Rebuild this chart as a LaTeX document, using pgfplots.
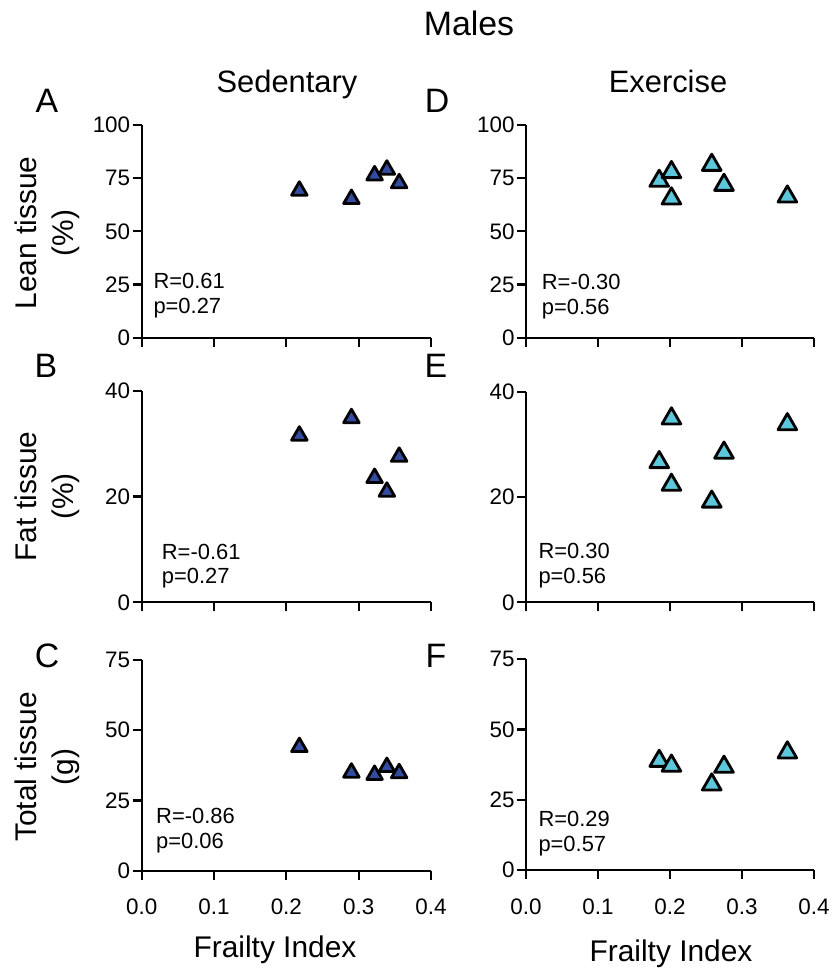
\documentclass[border=0pt]{standalone}
\usepackage{fontspec}
\setmainfont{Liberation Sans}
\usepackage{pgfplots}
\pgfplotsset{compat=1.18}
\definecolor{sedblue}{RGB}{52,76,160}
\definecolor{excyan}{RGB}{92,198,218}
\pgfplotsset{
  panel/.style={
    scale only axis, axis x line=bottom, axis y line=left,
    axis line style={-, line width=2.2bp, black},
    xmin=0, xmax=0.4, ymin=0,
    xtick={0,0.1,0.2,0.3,0.4},
    tick align=outside, major tick length=9bp,
    major tick style={line width=2.2bp, black},
    tick label style={font=\fontsize{22.5}{26}\selectfont},
    /pgf/number format/assume math mode=true,
    x tick label style={yshift=-16bp, /pgf/number format/fixed, /pgf/number format/fixed zerofill, /pgf/number format/precision=1},
    y tick label style={xshift=1bp},
    clip=false,
    anchor=south west,
  },
  noxlab/.style={xticklabels={}},
  sed/.style={only marks, mark=triangle*, mark size=9bp, mark options={fill=sedblue, draw=black, line width=2.8bp, line join=round}},
  exc/.style={only marks, mark=triangle*, mark size=10.8bp, mark options={fill=excyan, draw=black, line width=2.8bp, line join=round}},
}
\begin{document}
\begin{tikzpicture}
\path[use as bounding box] (0bp,0bp) rectangle (833bp,972bp);
% Titles
\node[anchor=base, font=\fontsize{34}{40}\selectfont, inner sep=0] at (469bp,936bp) {Males};
\node[anchor=base, font=\fontsize{31}{36}\selectfont, inner sep=0] at (287bp,879bp) {Sedentary};
\node[anchor=base, font=\fontsize{31}{36}\selectfont, inner sep=0] at (668bp,879bp) {Exercise};
% Panel letters
\begin{scope}[every node/.style={anchor=base, font=\fontsize{34}{40}\selectfont, inner sep=0}]
\node at (47bp,859bp) {A};
\node at (437bp,859bp) {D};
\node at (46bp,594bp) {B};
\node at (436bp,594bp) {E};
\node at (47bp,304bp) {C};
\node at (436bp,304bp) {F};
\end{scope}
% Y labels
\begin{scope}[every node/.style={rotate=90, align=center, font=\fontsize{30}{37}\selectfont, inner sep=0}]
\node at (47bp,739bp) {Lean tissue\\(\%)};
\node at (47bp,475.5bp) {Fat tissue\\(\%)};
\node at (47bp,205bp) {Total tissue\\(g)};
\end{scope}
% X labels
\node[anchor=base, font=\fontsize{30}{36}\selectfont, inner sep=0] at (275bp,15bp) {Frailty Index};
\node[anchor=base, font=\fontsize{30}{36}\selectfont, inner sep=0] at (671bp,11bp) {Frailty Index};
% Annotations
\begin{scope}[every node/.style={anchor=base west, font=\fontsize{22}{26}\selectfont, inner sep=0}]
\node at (153.3bp,683.7bp) {R=0.61};
\node at (153.3bp,658.7bp) {p=0.27};
\node at (161.7bp,412bp) {R=-0.61};
\node at (161.7bp,388.7bp) {p=0.27};
\node at (156bp,148.7bp) {R=-0.86};
\node at (156bp,123.7bp) {p=0.06};
\node at (541.7bp,682bp) {R=-0.30};
\node at (541.7bp,657bp) {p=0.56};
\node at (538.3bp,413.7bp) {R=0.30};
\node at (538.3bp,388.7bp) {p=0.56};
\node at (538.3bp,145.3bp) {R=0.29};
\node at (538.3bp,120.3bp) {p=0.57};
\end{scope}
% Panel A
\begin{axis}[panel, noxlab, at={(141.7bp,634.3bp)}, width=289.3bp, height=212.7bp, ymax=100, ytick={0,25,50,75,100}]
\addplot[sed] coordinates {(0.218,69.1) (0.290,65.2) (0.322,76.3) (0.339,79.0) (0.356,72.6)};
\end{axis}
% Panel B
\begin{axis}[panel, noxlab, at={(141.7bp,369.7bp)}, width=289.3bp, height=211.6bp, ymax=40, ytick={0,20,40}]
\addplot[sed] coordinates {(0.218,31.5) (0.290,34.8) (0.322,23.5) (0.339,20.9) (0.356,27.5)};
\end{axis}
% Panel C
\begin{axis}[panel, at={(141.7bp,101.3bp)}, width=289.3bp, height=210.7bp, ymax=75, ytick={0,25,50,75}]
\addplot[sed] coordinates {(0.218,44.0) (0.290,34.9) (0.322,34.1) (0.339,36.9) (0.356,34.7)};
\end{axis}
% Panel D
\begin{axis}[panel, noxlab, at={(526bp,634.3bp)}, width=288bp, height=212.7bp, ymax=100, ytick={0,25,50,75,100}]
\addplot[exc] coordinates {(0.185,73.7) (0.202,77.8) (0.202,65.4) (0.258,81.2) (0.275,71.8) (0.363,66.3)};
\end{axis}
% Panel E
\begin{axis}[panel, noxlab, at={(526bp,369.7bp)}, width=288bp, height=210.6bp, ymax=40, ytick={0,20,40}]
\addplot[exc] coordinates {(0.185,26.6) (0.202,34.9) (0.202,22.3) (0.258,19.1) (0.275,28.4) (0.363,33.8)};
\end{axis}
% Panel F
\begin{axis}[panel, at={(526bp,102bp)}, width=288bp, height=210.7bp, ymax=75, ytick={0,25,50,75}]
\addplot[exc] coordinates {(0.185,38.8) (0.202,37.1) (0.258,30.4) (0.275,36.7) (0.363,41.8)};
\end{axis}
\end{tikzpicture}
\end{document}
